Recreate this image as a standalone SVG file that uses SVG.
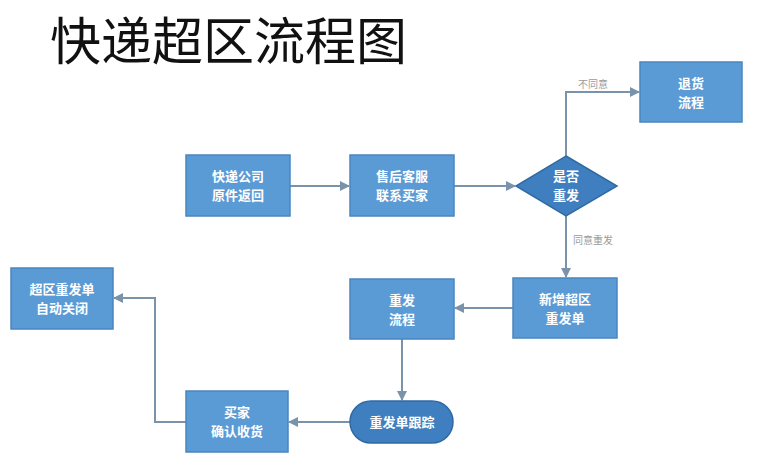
<svg xmlns="http://www.w3.org/2000/svg" width="763" height="458" viewBox="0 0 763 458">
<style>
.b{fill:#5b9bd5;stroke:#4a86c0;stroke-width:1.5}
.d{fill:#3f7fbf;stroke:#2f6aa5;stroke-width:1.5}
.t{font-family:"Noto Sans CJK SC",sans-serif;font-size:13px;fill:#fff;text-anchor:middle;font-weight:bold}
.l{font-family:"Noto Sans CJK SC",sans-serif;font-size:10px;fill:#9a9a9a}
.c{fill:none;stroke:#7a93ab;stroke-width:2;marker-end:url(#a)}
</style>
<defs><marker id="a" markerWidth="10" markerHeight="10" refX="9" refY="5" orient="auto" markerUnits="userSpaceOnUse"><path d="M0,0L10,5L0,10z" fill="#7a93ab"/></marker></defs>
<rect width="763" height="458" fill="#fff"/>
<text x="50" y="60" font-family="Noto Sans CJK SC,sans-serif" font-size="51" fill="#111">快递超区流程图</text>
<g id="connectors">
<path class="c" d="M290,186H349"/>
<path class="c" d="M454,186H515"/>
<path class="c" d="M566,156V92H639"/>
<path class="c" d="M566,216V277"/>
<path class="c" d="M513,308H455"/>
<path class="c" d="M402,339V400"/>
<path class="c" d="M350,422H289"/>
<path class="c" d="M186,422H155V298H114"/>
<text class="l" x="578" y="88">不同意</text>
<text class="l" x="573" y="244">同意重发</text>
</g>
<g id="n1"><rect class="b" x="186" y="155" width="104" height="61"/><text class="t" x="238" y="181">快递公司</text><text class="t" x="238" y="200">原件返回</text></g>
<g id="n2"><rect class="b" x="350" y="155" width="104" height="61"/><text class="t" x="402" y="181">售后客服</text><text class="t" x="402" y="200">联系买家</text></g>
<g id="n3"><path class="d" d="M566,156L617,186L566,216L516,186z"/><text class="t" x="566" y="181">是否</text><text class="t" x="566" y="200">重发</text></g>
<g id="n4"><rect class="b" x="640" y="62" width="102" height="60"/><text class="t" x="691" y="88">退货</text><text class="t" x="691" y="107">流程</text></g>
<g id="n5"><rect class="b" x="513" y="278" width="104" height="60"/><text class="t" x="565" y="304">新增超区</text><text class="t" x="565" y="323">重发单</text></g>
<g id="n6"><rect class="b" x="350" y="279" width="104" height="60"/><text class="t" x="402" y="305">重发</text><text class="t" x="402" y="324">流程</text></g>
<g id="n7"><rect class="d" x="350" y="401" width="103" height="42" rx="21"/><text class="t" x="402" y="427">重发单跟踪</text></g>
<g id="n8"><rect class="b" x="186" y="391" width="102" height="61"/><text class="t" x="237" y="417">买家</text><text class="t" x="237" y="436">确认收货</text></g>
<g id="n9"><rect class="b" x="11" y="268" width="102" height="61"/><text class="t" x="62" y="294">超区重发单</text><text class="t" x="62" y="313">自动关闭</text></g>
</svg>
